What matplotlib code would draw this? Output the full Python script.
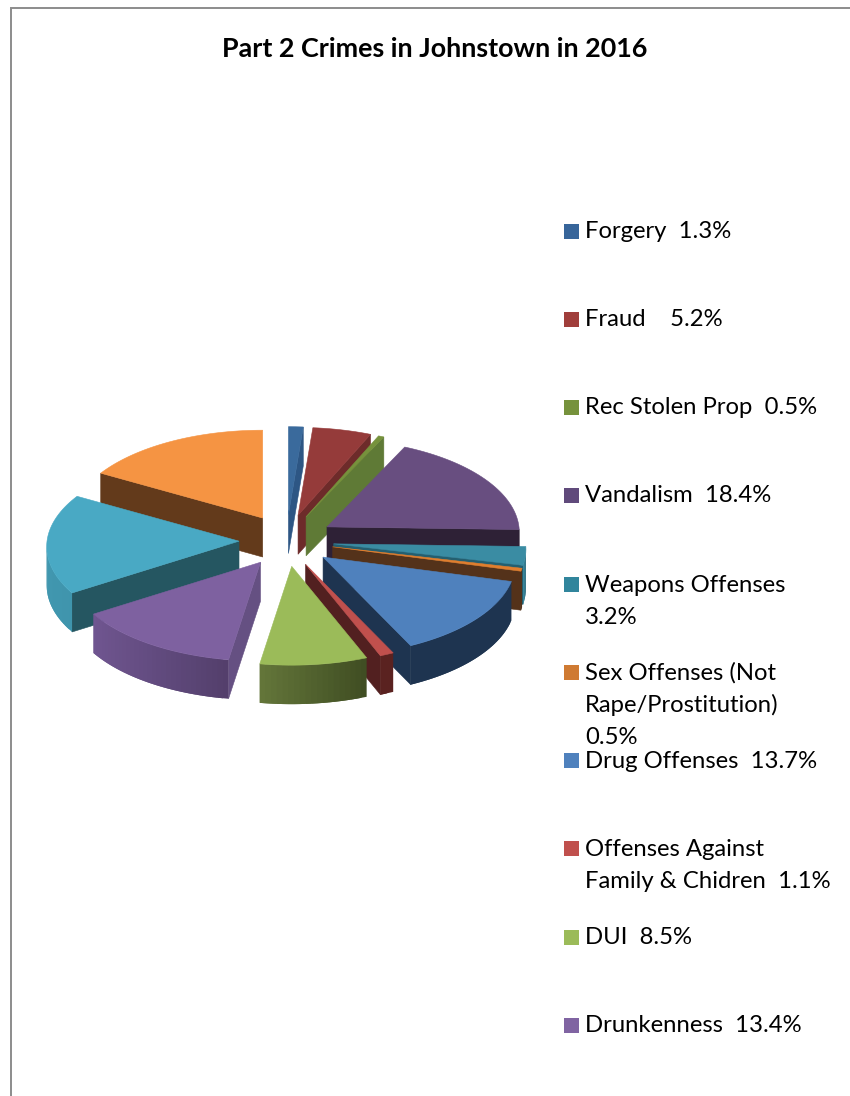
import numpy as np
import matplotlib
matplotlib.use("Agg")
import matplotlib.pyplot as plt
from matplotlib.colors import to_rgb
from matplotlib.patches import Polygon, Rectangle

TITLE = "Part 2 Crimes in Johnstown in 2016"

# Share of each offence, clockwise from twelve o'clock
values = [1.3, 5.2, 0.5, 18.4, 3.2, 0.5, 13.7, 1.1, 8.5, 13.4, 17.3, 16.7]

legend_lines = [
    ["Forgery  1.3%"],
    ["Fraud    5.2%"],
    ["Rec Stolen Prop  0.5%"],
    ["Vandalism  18.4%"],
    ["Weapons Offenses", "3.2%"],
    ["Sex Offenses (Not", "Rape/Prostitution)", "0.5%"],
    ["Drug Offenses  13.7%"],
    ["Offenses Against", "Family & Chidren  1.1%"],
    ["DUI  8.5%"],
    ["Drunkenness  13.4%"],
]

top_colors = ["#3A6A9C", "#953B3A", "#76923C", "#684E80", "#3A8CA3", "#E07E2E",
              "#4F81BD", "#C0504D", "#9BBB59", "#7E61A0", "#49A9C4", "#F59443"]
swatch_colors = ["#37659A", "#A03E3B", "#76923C", "#604A7B", "#31859C", "#CF7A32",
                 "#4F81BD", "#C0504D", "#9BBB59", "#8064A2"]
cut_colors = ["#2D5684", "#6D2B2A", "#5F7A36", "#2E2136", "#245F70", "#54321A",
              "#1E3450", "#522020", "#3F4D22", "#655082", "#255661", "#633A1B"]
rim_left = ["#2D5684", "#6D2B2A", "#5F7A36", "#2E2136", "#3A8CA3", "#54321A",
            "#1E3450", "#5A2220", "#64763A", "#6F5590", "#4197AF", "#633A1B"]
rim_right = ["#2D5684", "#6D2B2A", "#5F7A36", "#2E2136", "#2C6A7C", "#54321A",
             "#1E3450", "#5A2220", "#3F4D22", "#533F6B", "#3F94AC", "#633A1B"]

# Pie geometry, in figure pixels
CX, CY = 286.5, 540.5
RADIUS_X, RADIUS_Y = 192.0, 93.0
PERSPECTIVE = 0.059
EXPLODE_X, EXPLODE_Y = 47.5, 26.0
DEPTH = 39.0

fig = plt.figure(figsize=(8.5, 10.96), dpi=100)
ax = fig.add_axes([0, 0, 1, 1])
ax.set_xlim(0, 850)
ax.set_ylim(1096, 0)
ax.axis("off")


def rim_point(tip, theta):
    u, v = np.sin(theta), np.cos(theta)
    scale = 1.0 / (1.0 + PERSPECTIVE * v)
    return np.array([tip[0] + RADIUS_X * u * scale, tip[1] - RADIUS_Y * v * scale])


def quad(p, q, color, zorder, edge=True):
    drop = np.array([0.0, DEPTH])
    ax.add_patch(Polygon([p, q, q + drop, p + drop], closed=True, facecolor=color,
                         edgecolor=color if edge else "none",
                         linewidth=0.4 if edge else 0, zorder=zorder))


bounds = np.cumsum([0.0] + values) / sum(values) * 2 * np.pi
slices = []
for i in range(len(values)):
    mid = 0.5 * (bounds[i] + bounds[i + 1])
    tip = np.array([CX + EXPLODE_X * np.sin(mid), CY - EXPLODE_Y * np.cos(mid)])
    slices.append((tip[1], i, tip))

# Paint from the back of the pie to the front
for z, (_, i, tip) in enumerate(sorted(slices, key=lambda s: s[0])):
    n = max(3, int(np.degrees(bounds[i + 1] - bounds[i]) / 1.5))
    thetas = np.linspace(bounds[i], bounds[i + 1], n)
    rim = [rim_point(tip, t) for t in thetas]
    base = 10 + z * 3

    # Only faces whose top edge runs leftwards look towards the viewer
    first, last = rim[0], rim[-1]
    if first[0] < tip[0]:
        quad(tip, first, cut_colors[i], base)
    if tip[0] < last[0]:
        quad(last, tip, cut_colors[i], base)
    xs = np.array([p[0] for p in rim])
    left, right = np.array(to_rgb(rim_left[i])), np.array(to_rgb(rim_right[i]))
    span = max(xs.max() - xs.min(), 1.0)
    # Each rim strip runs on under the next one so no seams show between them
    for k in range(len(rim) - 1):
        p, q = rim[k], rim[k + 1]
        if q[0] < p[0]:
            far = rim[min(k + 2, len(rim) - 1)]
            frac = (0.5 * (p[0] + q[0]) - xs.min()) / span
            quad(p, far if far[0] < p[0] else q, tuple(left + (right - left) * frac),
                 base + 1 + 0.001 * k, edge=False)
    ax.add_patch(Polygon([tip] + rim, closed=True, facecolor=top_colors[i],
                         edgecolor=top_colors[i], linewidth=0.4, zorder=base + 2))

# Outer frame, open on the right and at the bottom
frame = "#8C8C8C"
ax.plot([11, 11, 850], [1096, 7.5, 7.5], color=frame, linewidth=1.4, zorder=1,
        solid_joinstyle="miter")

ax.text(434.5, 49, TITLE, ha="center", va="center", fontsize=19.4,
        fontweight="bold", family="Lato", color="black")

# Legend rows
row_centres = [232, 320, 408, 496, 585, 673, 761, 849, 938, 1026]
for lines, color, y in zip(legend_lines, swatch_colors, row_centres):
    ax.add_patch(Rectangle((564, y - 8.5), 15, 15, facecolor=color, edgecolor="none", zorder=5))
    for k, line in enumerate(lines):
        ax.text(585, y + 32.2 * k, line, ha="left", va="center", fontsize=17.2,
                family="Lato", color="black", zorder=6)

fig.savefig("out.png", dpi=100, facecolor="white")
